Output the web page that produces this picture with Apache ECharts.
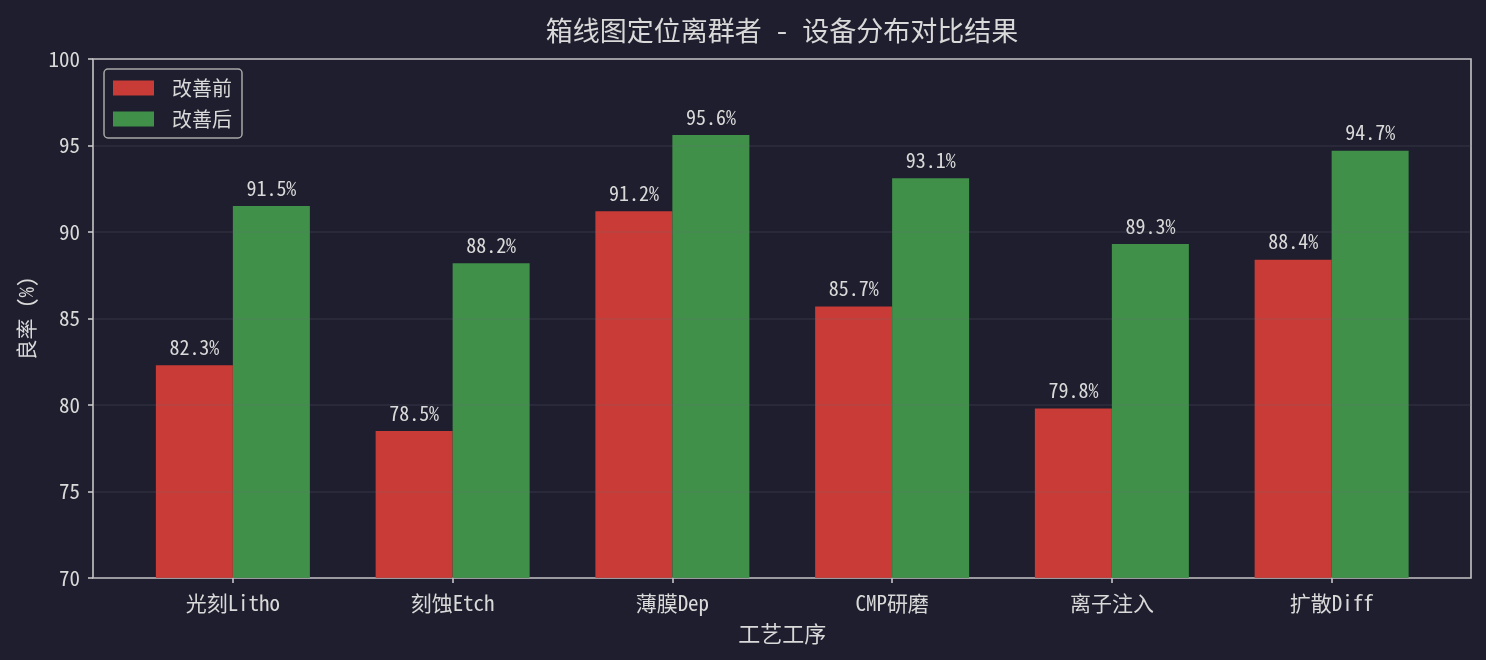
<!DOCTYPE html>
<html>
<head>
<meta charset="utf-8">
<script src="https://cdn.jsdelivr.net/npm/echarts@6/dist/echarts.min.js"></script>
<style>
html,body{margin:0;padding:0;background:#1e1e2e;}
#chart{width:1486px;height:660px;}
</style>
</head>
<body>
<div id="chart"></div>
<script>
// 数据
var categories = ["光刻Litho", "刻蚀Etch", "薄膜Dep", "CMP研磨", "离子注入", "扩散Diff"];
var beforeVals = [82.3, 78.5, 91.2, 85.7, 79.8, 88.4];
var afterVals = [91.5, 88.2, 95.6, 93.1, 89.3, 94.7];
var yTicks = [70, 75, 80, 85, 90, 95, 100];

var monoFont = "'Noto Sans Mono CJK SC', 'DejaVu Sans Mono', 'Noto Sans CJK SC', monospace";
var textColor = "#d9d9d9";

var chart = echarts.init(document.getElementById('chart'));
var option = {
    backgroundColor: "#1e1e2e",
    animation: false,
    title: {
        text: "箱线图定位离群者 - 设备分布对比结果",
        left: 777,
        textAlign: "center",
        top: 12,
        textStyle: {color: textColor, fontSize: 27, fontWeight: "normal", fontFamily: monoFont}
    },
    legend: {
        data: ["改善前", "改善后"],
        orient: "vertical",
        icon: "rect",
        left: 104,
        top: 69,
        padding: [9, 10, 9, 9],
        itemWidth: 41,
        itemHeight: 15,
        itemGap: 11,
        borderColor: "#a8a8a8",
        borderWidth: 1.5,
        borderRadius: 4,
        backgroundColor: "rgba(30,30,46,0.8)",
        textStyle: {color: textColor, fontSize: 20, fontFamily: monoFont, padding: [0, 0, 0, 13]}
    },
    grid: [
        // 外框
        {left: 93, right: 15, top: 59, bottom: 82, show: true, borderColor: "#cfcfcf", borderWidth: 1.5, z: 0},
        // 柱子
        {left: 123, right: 44.5, top: 59, bottom: 82}
    ],
    xAxis: [
        {
            gridIndex: 0, type: "value", min: 0, max: 1,
            axisLine: {show: false}, axisTick: {show: false}, axisLabel: {show: false}, splitLine: {show: false}
        },
        {
            gridIndex: 1, type: "category", data: categories,
            name: "工艺工序", nameLocation: "middle", nameGap: 45,
            nameTextStyle: {color: textColor, fontSize: 22, fontFamily: monoFont},
            axisLine: {show: false},
            axisTick: {show: true, alignWithLabel: true, length: 5, lineStyle: {color: "#cfcfcf", width: 1.5}},
            axisLabel: {color: textColor, fontSize: 21, margin: 15, fontFamily: monoFont},
            splitLine: {show: false}
        }
    ],
    yAxis: [
        {
            gridIndex: 0, type: "value", min: 70, max: 100, interval: 5, z: 10,
            name: "良率 (%)", nameLocation: "middle", nameGap: 56, nameRotate: 90,
            nameTextStyle: {color: textColor, fontSize: 21, fontFamily: monoFont},
            axisLine: {show: false},
            axisTick: {show: true, length: 5, lineStyle: {color: "#cfcfcf", width: 1.5}},
            axisLabel: {color: textColor, fontSize: 21, margin: 13, fontFamily: monoFont,
                formatter: function (v) { return yTicks.indexOf(v) >= 0 ? v : ""; }},
            splitLine: {show: true, lineStyle: {color: "rgba(110,110,125,0.2)", width: 1.5}}
        },
        {
            gridIndex: 1, type: "value", min: 70, max: 100, interval: 5,
            axisLine: {show: false}, axisTick: {show: false}, axisLabel: {show: false}, splitLine: {show: false}
        }
    ],
    series: [
        {
            name: "改善前", type: "bar", xAxisIndex: 1, yAxisIndex: 1,
            data: beforeVals, barWidth: 77, barGap: "0%",
            itemStyle: {color: "#c83b36"},
            label: {show: true, position: "top", distance: 8, color: textColor, fontSize: 20, fontFamily: monoFont,
                formatter: function (p) { return p.value.toFixed(1) + "%"; }}
        },
        {
            name: "改善后", type: "bar", xAxisIndex: 1, yAxisIndex: 1,
            data: afterVals, barWidth: 77, barGap: "0%",
            itemStyle: {color: "#40904a"},
            label: {show: true, position: "top", distance: 8, color: textColor, fontSize: 20, fontFamily: monoFont,
                formatter: function (p) { return p.value.toFixed(1) + "%"; }}
        }
    ]
};
chart.setOption(option);
</script>
</body>
</html>
